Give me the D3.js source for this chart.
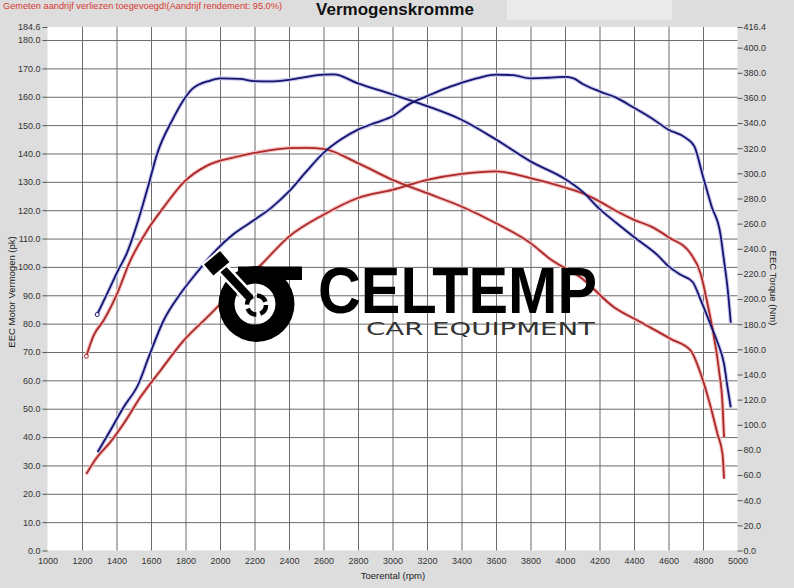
<!DOCTYPE html>
<html>
<head>
<meta charset="utf-8">
<script src="https://cdn.jsdelivr.net/npm/d3@7"></script>
<style>
    body { margin: 0; background: #dddddd; }
    svg { display: block; font-family: "Liberation Sans", Arial, sans-serif; }
</style>
</head>
<body>
<svg id="chart" width="794" height="588"></svg>
<script>
"use strict";

// tick labels
const rpmTicks = [1000, 1200, 1400, 1600, 1800, 2000, 2200, 2400, 2600, 2800, 3000,
                  3200, 3400, 3600, 3800, 4000, 4200, 4400, 4600, 4800, 5000];
const powerTicks = [0, 10, 20, 30, 40, 50, 60, 70, 80, 90, 100, 110, 120, 130, 140,
                    150, 160, 170, 180, 184.6];
const torqueTicks = [0, 20, 40, 60, 80, 100, 120, 140, 160, 180, 200, 220, 240, 260,
                     280, 300, 320, 340, 360, 380, 400, 416.4];

// [rpm, pk]  - blue power curve
const bluePower = [[1291, 34.7], [1364, 42.3], [1441, 50.5], [1528, 58.8], [1586, 68.1],
    [1673, 81.1], [1770, 90.5], [1867, 98.1], [1983, 106.3], [2079, 111.6], [2200, 116.6],
    [2300, 121], [2400, 126.6], [2500, 133.6], [2600, 140.2], [2700, 144.9], [2800, 148.4],
    [2900, 150.8], [3000, 153.1], [3100, 157.5], [3200, 160.2], [3300, 162.8], [3400, 164.9],
    [3500, 166.7], [3600, 167.8], [3700, 167.6], [3800, 166.5], [3900, 166.7], [4000, 167],
    [4050, 166.5], [4100, 164.6], [4200, 161.9], [4300, 159.6], [4400, 156.1], [4500, 152.5],
    [4600, 148.4], [4700, 145.5], [4750, 142.5], [4800, 131.9], [4850, 121.3], [4900, 111.9],
    [4922, 102.2], [4942, 92.8], [4961, 80.3]];

// [rpm, Nm]  - blue torque curve
const blueTorque = [[1288, 187.7], [1345, 204.1], [1403, 221.1], [1461, 236.8], [1534, 266.2],
    [1586, 291], [1635, 315.3], [1722, 342], [1838, 367], [1944, 373.8], [2002, 375.6],
    [2116, 375.1], [2200, 373.3], [2300, 373.1], [2400, 374.4], [2600, 378.5], [2660, 378.7],
    [2800, 371.5], [3000, 362.7], [3200, 353.5], [3400, 342.6], [3600, 326.9], [3800, 309.5],
    [4000, 295.5], [4100, 285.6], [4200, 271.8], [4300, 260.3], [4400, 249.3], [4536, 235],
    [4603, 225.8], [4671, 219.3], [4739, 213.8], [4787, 199.2], [4845, 179.3], [4884, 165.6],
    [4922, 148.4], [4942, 129.9], [4961, 113.9]];

// [rpm, pk]  - red power curve
const redPower = [[1225, 27], [1287, 32.9], [1364, 38.2], [1441, 44.7], [1538, 54],
    [1654, 63.4], [1789, 74], [1925, 82.2], [2079, 91.6], [2234, 100.5], [2400, 110.7],
    [2600, 118.4], [2800, 124.3], [3000, 127.2], [3200, 130.7], [3400, 132.8], [3600, 133.7],
    [3800, 131.3], [4000, 128], [4100, 126], [4200, 123.1], [4300, 119.6], [4400, 116.6],
    [4500, 114.2], [4600, 110.5], [4729, 104.6], [4787, 97.5], [4826, 87], [4864, 75.2],
    [4893, 63.4], [4913, 51.7], [4922, 39.9]];

// [rpm, Nm]  - red torque curve
const redTorque = [[1225, 154.5], [1267, 171], [1325, 182.9], [1403, 204.1], [1480, 230.5],
    [1577, 254.4], [1673, 272.9], [1789, 292.8], [1925, 306.1], [2079, 312.6], [2200, 316.2],
    [2400, 320.1], [2500, 320.3], [2600, 319.4], [2800, 308.1], [3000, 294.8], [3200, 284.2],
    [3400, 273.6], [3600, 260.3], [3800, 244.5], [3920, 231.2], [4091, 217.2], [4284, 193.5],
    [4439, 181.6], [4613, 168.3], [4729, 159], [4787, 140.5], [4845, 113.9], [4884, 92.7],
    [4913, 76.9], [4922, 57.1]];

const plot = { left: 47.5, right: 737.5, top: 27, bottom: 550.5 };

const svg = d3.select("#chart");
const xScale = d3.scaleLinear().domain([1000, 5000]).range([plot.left, plot.right]);
const yPower = d3.scaleLinear().domain([0, 184.6]).range([plot.bottom, plot.top]);
const yTorque = d3.scaleLinear().domain([0, 416.4]).range([plot.bottom, plot.top]);

// background + header
svg.append("rect").attr("width", 794).attr("height", 588).attr("fill", "#dddddd");
svg.append("rect").attr("x", 507).attr("y", 0).attr("width", 165).attr("height", 20)
   .attr("fill", "#eaeaea");
svg.append("rect")
   .attr("x", plot.left).attr("y", plot.top)
   .attr("width", plot.right - plot.left).attr("height", plot.bottom - plot.top)
   .attr("fill", "#ffffff");

svg.append("text")
   .attr("x", 3).attr("y", 9)
   .attr("font-size", 8.5).attr("fill", "#d8382f")
   .attr("textLength", 279).attr("lengthAdjust", "spacingAndGlyphs")
   .text("Gemeten aandrijf verliezen toegevoegd!(Aandrijf rendement: 95.0%)");
svg.append("text")
   .attr("x", 395).attr("y", 15)
   .attr("text-anchor", "middle")
   .attr("font-size", 17).attr("font-weight", "bold").attr("fill", "#111")
   .text("Vermogenskromme");

// grid
const grid = svg.append("g").attr("class", "grid");
grid.append("g")
    .attr("transform", `translate(${plot.left}, 0)`)
    .call(d3.axisLeft(yPower)
            .tickValues(powerTicks.filter(d => d > 0 && d <= 180))
            .tickSize(-(plot.right - plot.left))
            .tickFormat(""));
grid.append("g")
    .attr("transform", `translate(0, ${plot.bottom})`)
    .call(d3.axisBottom(xScale)
            .tickValues(rpmTicks.filter(d => d > 1000 && d < 5000))
            .tickSize(-(plot.bottom - plot.top))
            .tickFormat(""));
grid.selectAll(".domain").remove();
grid.selectAll("line").attr("stroke", "#6a6a6a").attr("stroke-width", 1);

// axes
const styleAxis = g => {
    g.select(".domain").remove();
    g.selectAll("line").attr("stroke", "#555");
    g.selectAll("text").attr("font-size", 9).attr("fill", "#333")
     .attr("font-family", "'Liberation Sans', Arial, sans-serif");
};
svg.append("g")
   .attr("transform", `translate(${plot.left}, 0)`)
   .call(d3.axisLeft(yPower).tickValues(powerTicks).tickSize(5).tickPadding(2)
           .tickFormat(d => d.toFixed(1)))
   .call(styleAxis);
svg.append("g")
   .attr("transform", `translate(${plot.right}, 0)`)
   .call(d3.axisRight(yTorque).tickValues(torqueTicks).tickSize(5).tickPadding(1)
           .tickFormat(d => d.toFixed(1)))
   .call(styleAxis);
svg.append("g")
   .attr("transform", `translate(0, ${plot.bottom})`)
   .call(d3.axisBottom(xScale).tickValues(rpmTicks).tickSize(0).tickPadding(7)
           .tickFormat(d => d))
   .call(styleAxis);

svg.append("text")
   .attr("x", 393).attr("y", 579)
   .attr("text-anchor", "middle").attr("font-size", 9.5).attr("fill", "#222")
   .text("Toerental (rpm)");
svg.append("text")
   .attr("transform", "translate(14.5, 292) rotate(-90)")
   .attr("text-anchor", "middle").attr("font-size", 9.5).attr("fill", "#222")
   .text("EEC Motor Vermogen (pk)");
svg.append("text")
   .attr("transform", "translate(770, 288) rotate(90)")
   .attr("text-anchor", "middle").attr("font-size", 9.5).attr("fill", "#222")
   .text("EEC Torque (Nm)");

// curves
const linePower = d3.line().x(d => xScale(d[0])).y(d => yPower(d[1])).curve(d3.curveMonotoneX);
const lineTorque = d3.line().x(d => xScale(d[0])).y(d => yTorque(d[1])).curve(d3.curveMonotoneX);

const series = [
    { data: redTorque, line: lineTorque, color: "#aa2b2b", halo: "#f6c2c2" },
    { data: redPower, line: linePower, color: "#aa2b2b", halo: "#f6c2c2" },
    { data: blueTorque, line: lineTorque, color: "#16166e", halo: "#c9c9ee" },
    { data: bluePower, line: linePower, color: "#16166e", halo: "#c9c9ee" }
];
const curves = svg.append("g").attr("class", "curves");
series.forEach(s => {
    curves.append("path").attr("d", s.line(s.data))
          .attr("fill", "none").attr("stroke", s.halo).attr("stroke-width", 4)
          .attr("stroke-linejoin", "round");
});
series.forEach(s => {
    curves.append("path").attr("d", s.line(s.data))
          .attr("fill", "none").attr("stroke", s.color).attr("stroke-width", 1.8)
          .attr("stroke-linejoin", "round");
});
[{ d: blueTorque[0], y: yTorque, c: "#16166e" }, { d: redTorque[0], y: yTorque, c: "#aa2b2b" }]
    .forEach(m => {
        curves.append("circle")
              .attr("cx", xScale(m.d[0])).attr("cy", m.y(m.d[1])).attr("r", 2)
              .attr("fill", "#fff").attr("stroke", m.c).attr("stroke-width", 1);
    });

// watermark logo (turbo + piston icon, then the brand text)
const logo = svg.append("g").attr("class", "logo");
const ring = d3.path();
ring.arc(256.5, 304, 38, 0, 2 * Math.PI);
ring.moveTo(275.5, 304);
ring.arc(255, 304, 20.5, 0, 2 * Math.PI);
logo.append("path").attr("d", ring.toString())
    .attr("fill", "#000").attr("fill-rule", "evenodd");
logo.append("rect").attr("x", 238).attr("y", 266.5).attr("width", 64).attr("height", 13.5)
    .attr("fill", "#000");
logo.append("line").attr("x1", 220).attr("y1", 266).attr("x2", 251).attr("y2", 299)
    .attr("stroke", "#fff").attr("stroke-width", 13);
logo.append("line").attr("x1", 220).attr("y1", 266).attr("x2", 249).attr("y2", 297)
    .attr("stroke", "#000").attr("stroke-width", 8);
logo.append("rect").attr("x", -11.5).attr("y", -8.25).attr("width", 23).attr("height", 16.5)
    .attr("transform", "translate(216.7, 263.3) rotate(-40)")
    .attr("fill", "#000").attr("stroke", "#fff").attr("stroke-width", 2);
logo.append("circle").attr("cx", 256.5).attr("cy", 305).attr("r", 9.5)
    .attr("fill", "none").attr("stroke", "#000").attr("stroke-width", 4.5)
    .attr("stroke-dasharray", "11 4");
logo.append("text")
    .attr("x", 318).attr("y", 313)
    .attr("font-size", 64).attr("font-weight", "bold").attr("fill", "#000")
    .attr("textLength", 279).attr("lengthAdjust", "spacingAndGlyphs")
    .text("CELTEMP");
logo.append("text")
    .attr("x", 366).attr("y", 335)
    .attr("font-size", 18.5).attr("fill", "#333")
    .attr("font-family", "'DejaVu Sans', sans-serif")
    .attr("textLength", 229).attr("lengthAdjust", "spacingAndGlyphs")
    .text("CAR EQUIPMENT");
</script>
</body>
</html>
